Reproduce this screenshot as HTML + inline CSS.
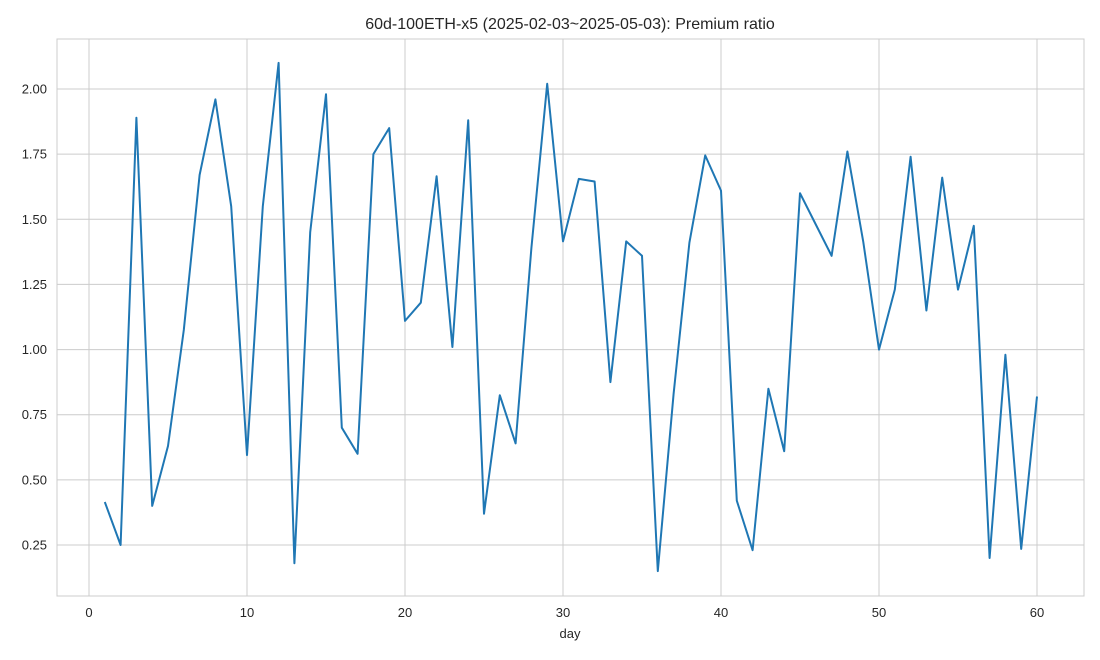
<!DOCTYPE html>
<html><head><meta charset="utf-8"><style>
html,body{margin:0;padding:0;background:#fff;width:1100px;height:660px;overflow:hidden}
svg{display:block;font-family:"Liberation Sans",Arial,sans-serif}
</style></head><body>
<svg id="chart" width="1100" height="660">
<text x="570" y="29" text-anchor="middle" font-size="16" fill="#262626">60d-100ETH-x5 (2025-02-03~2025-05-03): Premium ratio</text>
<g id="grid"></g>
<rect x="57" y="39" width="1027" height="557" fill="none" stroke="#cccccc" stroke-width="1"/>
<g id="ticks"></g>
<path id="line" fill="none" stroke="#1f77b4" stroke-width="2" stroke-linejoin="round"/>
<text x="570" y="638" text-anchor="middle" font-size="13" fill="#262626">day</text>
</svg>
<script>
const days = Array.from({length:60},(_,i)=>i+1);
const premiumRatio = [0.415,0.25,1.89,0.40,0.63,1.075,1.67,1.96,1.55,0.595,1.55,2.10,0.18,1.45,1.98,0.70,0.60,1.75,1.85,1.11,1.18,1.665,1.01,1.88,0.37,0.825,0.64,1.39,2.02,1.415,1.655,1.645,0.875,1.415,1.36,0.15,0.83,1.41,1.745,1.61,0.42,0.23,0.85,0.61,1.60,1.48,1.36,1.76,1.415,1.00,1.23,1.74,1.15,1.66,1.23,1.475,0.20,0.98,0.235,0.82];
const xTicks = [0,10,20,30,40,50,60];
const yTicks = [0.25,0.50,0.75,1.00,1.25,1.50,1.75,2.00];
const xS = v => 89 + v*(1037-89)/60;
const yS = v => 89 + (2-v)*(545-89)/1.75;
const NS="http://www.w3.org/2000/svg";
const grid=document.getElementById('grid'), ticks=document.getElementById('ticks');
function mk(tag,attrs,parent){const e=document.createElementNS(NS,tag);for(const k in attrs)e.setAttribute(k,attrs[k]);parent.appendChild(e);return e;}
xTicks.forEach(t=>{
  const l=mk('line',{x1:xS(t),x2:xS(t),y1:39,y2:596,stroke:'#cccccc','stroke-width':1},grid);
  
  
  const tx=mk('text',{x:xS(t),y:617,'text-anchor':'middle','font-size':13,fill:'#262626'},ticks);
  tx.textContent=t;
  
  
});
yTicks.forEach(t=>{
  const l=mk('line',{x1:57,x2:1084,y1:yS(t),y2:yS(t),stroke:'#cccccc','stroke-width':1},grid);
  
  
  const tx=mk('text',{x:47,y:yS(t)+4.5,'text-anchor':'end','font-size':13,fill:'#262626'},ticks);
  tx.textContent=t.toFixed(2);
  
  
});
document.getElementById('line').setAttribute('d',days.map((d,i)=>(i?'L':'M')+xS(d).toFixed(1)+','+yS(premiumRatio[i]).toFixed(1)).join(''));
</script>
</body></html>
